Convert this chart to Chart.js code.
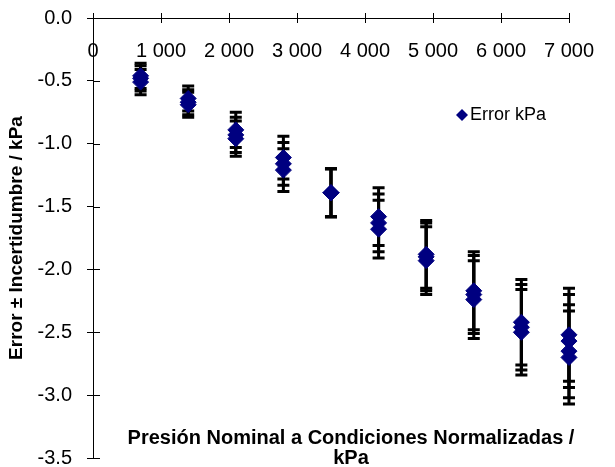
<!DOCTYPE html>
<html>
<head>
<meta charset="utf-8">
<script src="https://cdn.jsdelivr.net/npm/chart.js@4.4.1/dist/chart.umd.min.js"></script>
<style>
  html, body { margin: 0; padding: 0; background: #fff; }
  #wrap { width: 615px; height: 467px; position: relative; }
</style>
</head>
<body>
<div id="wrap"><canvas id="graph"></canvas></div>
<script>
// nominal pressures (kPa)
const pressures = [700, 1400, 2100, 2800, 3500, 4200, 4900, 5600, 6300, 7000];
// error at each pressure, repeated readings
const rep1 = [-0.46, -0.64, -0.89, -1.11, -1.39, -1.58, -1.88, -2.17, -2.42, -2.52];
const rep2 = [-0.48, -0.67, -0.93, -1.16, -1.39, -1.63, -1.90, -2.20, -2.46, -2.57];
const rep3 = [-0.51, -0.69, -0.96, -1.21, -1.39, -1.68, -1.93, -2.24, -2.50, -2.65];
const rep4 = [null, null, null, null, null, null, null, null, null, -2.70];
// expanded uncertainty (kPa)
const uncert = [0.10, 0.10, 0.14, 0.17, 0.19, 0.23, 0.27, 0.31, 0.34, 0.37];

const xTickLabels = ['0', '1 000', '2 000', '3 000', '4 000', '5 000', '6 000', '7 000'];
const yTickLabels = ['-3.5', '-3.0', '-2.5', '-2.0', '-1.5', '-1.0', '-0.5', '0.0'];

const seriesLabel = 'Error kPa';
const xTitle = ['Presión Nominal a Condiciones Normalizadas /', 'kPa'];
const yTitle = 'Error ± Incertidumbre / kPa';

const points = [];
[rep1, rep2, rep3, rep4].forEach(rep => {
    rep.forEach((v, i) => {
        if (v !== null) points.push({ x: pressures[i], y: v, u: uncert[i] });
    });
});

Chart.defaults.font.family = '"Liberation Sans", Arial, sans-serif';
Chart.defaults.color = '#000';

// error bars, drawn under the markers
const errorBars = {
    id: 'errorBars',
    beforeDatasetsDraw(chart) {
        const c = chart.ctx;
        const xs = chart.scales.x, ys = chart.scales.y;
        c.save();
        c.strokeStyle = '#000';
        c.lineWidth = 3;
        chart.data.datasets[0].data.forEach(p => {
            const px = xs.getPixelForValue(p.x);
            const top = ys.getPixelForValue(p.y + p.u);
            const bot = ys.getPixelForValue(p.y - p.u);
            c.beginPath();
            c.moveTo(px, top);
            c.lineTo(px, bot);
            c.moveTo(px - 6, top);
            c.lineTo(px + 6, top);
            c.moveTo(px - 6, bot);
            c.lineTo(px + 6, bot);
            c.stroke();
        });
        c.restore();
    }
};

// inner tick marks, titles and legend
const decorations = {
    id: 'decorations',
    afterDraw(chart) {
        const c = chart.ctx;
        const xs = chart.scales.x, ys = chart.scales.y;
        const axisY = ys.getPixelForValue(0);
        const axisX = xs.getPixelForValue(0);
        c.save();
        c.strokeStyle = '#000';
        c.lineWidth = 1;
        c.beginPath();
        xs.ticks.forEach(t => {
            const px = Math.round(xs.getPixelForValue(t.value)) + 0.5;
            c.moveTo(px, axisY - 5);
            c.lineTo(px, axisY + 5);
        });
        ys.ticks.forEach(t => {
            const py = Math.round(ys.getPixelForValue(t.value)) + 0.5;
            c.moveTo(axisX, py);
            c.lineTo(axisX + 7, py);
        });
        c.stroke();

        c.fillStyle = '#000';
        c.font = 'bold 20px "Liberation Sans", Arial, sans-serif';
        c.textAlign = 'center';
        c.textBaseline = 'middle';
        c.fillText(xTitle[0], 351, 438);
        c.fillText(xTitle[1], 351, 458);

        c.font = 'bold 19px "Liberation Sans", Arial, sans-serif';
        c.translate(17, (chart.chartArea.top + chart.chartArea.bottom) / 2);
        c.rotate(-Math.PI / 2);
        c.fillText(yTitle, 0, 0);
        c.setTransform(1, 0, 0, 1, 0, 0);

        // legend
        const lx = 462, ly = 115;
        c.fillStyle = '#000080';
        c.beginPath();
        c.moveTo(lx, ly - 6);
        c.lineTo(lx + 6, ly);
        c.lineTo(lx, ly + 6);
        c.lineTo(lx - 6, ly);
        c.closePath();
        c.fill();
        c.fillStyle = '#000';
        c.font = '18px "Liberation Sans", Arial, sans-serif';
        c.textAlign = 'left';
        c.fillText(seriesLabel, lx + 8, ly);
        c.restore();
    }
};

const ctx = document.getElementById('graph').getContext('2d');
const dataChart = new Chart(ctx, {
    type: 'scatter',
    data: {
        datasets: [{
            label: seriesLabel,
            data: points,
            pointStyle: 'rectRot',
            pointRadius: 8,
            pointHoverRadius: 8,
            backgroundColor: '#000080',
            borderColor: '#000080',
            borderWidth: 1,
            clip: false,
        }]
    },
    options: {
        responsive: true,
        maintainAspectRatio: false,
        animation: false,
        layout: { padding: { top: 18, right: 25, bottom: 8, left: 0 } },
        scales: {
            x: {
                type: 'linear',
                position: { y: 0 },
                min: 0,
                max: 7000,
                grid: { drawOnChartArea: false, tickLength: 0, color: '#000' },
                border: { color: '#000', width: 1 },
                ticks: {
                    stepSize: 1000,
                    padding: 21,
                    maxRotation: 0,
                    autoSkip: false,
                    font: { size: 20 },
                    callback: (v, i) => xTickLabels[i],
                },
            },
            y: {
                type: 'linear',
                min: -3.5,
                max: 0,
                afterFit: (scale) => {
                    // fixed axis width, and let the end labels overhang
                    scale.width = 93;
                    scale.paddingTop = 0;
                    scale.paddingBottom = 0;
                },
                grid: { drawOnChartArea: false, tickLength: 6, color: '#000' },
                border: { color: '#000', width: 1 },
                ticks: {
                    stepSize: 0.5,
                    padding: 15,
                    font: { size: 20 },
                    callback: (v, i) => yTickLabels[i],
                },
            },
        },
        plugins: {
            legend: { display: false },
            tooltip: { enabled: false },
        }
    },
    plugins: [errorBars, decorations]
});
</script>
</body>
</html>
